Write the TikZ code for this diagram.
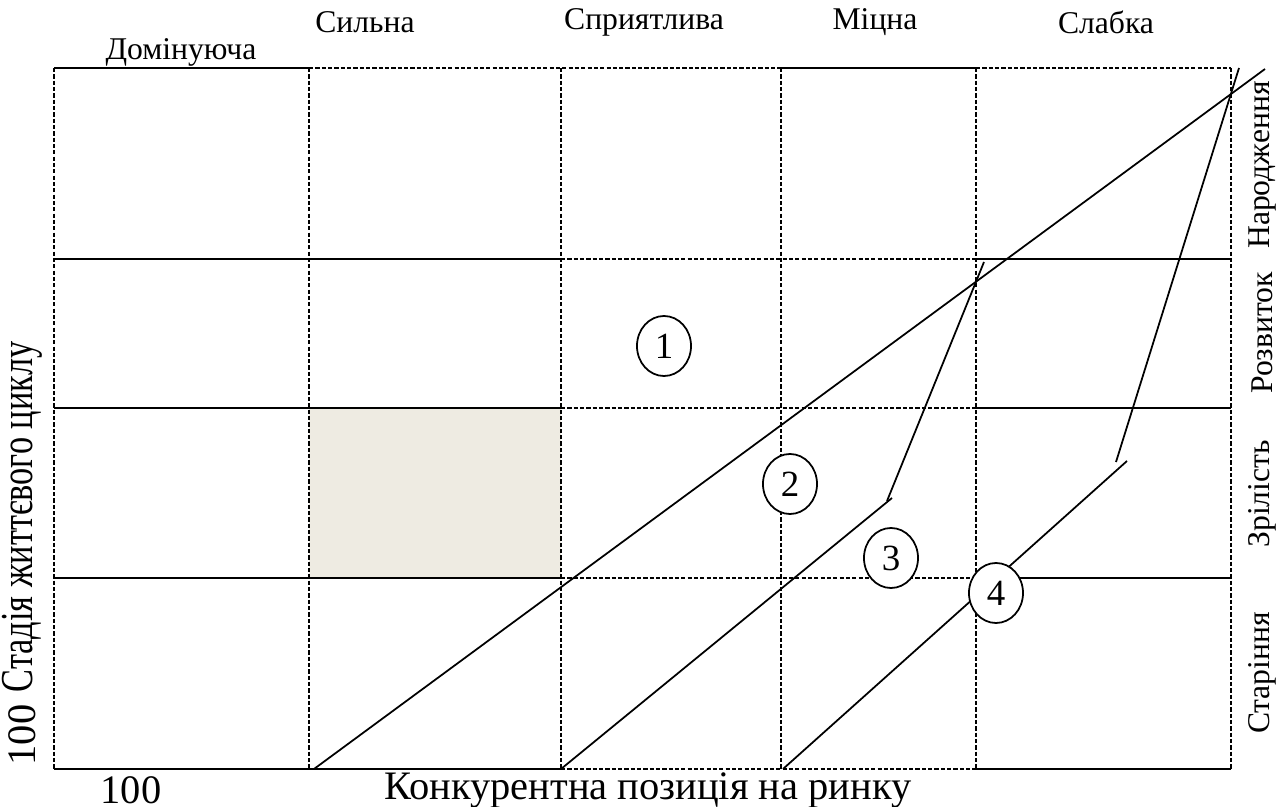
\documentclass[tikz,border=0pt]{standalone}
\usepackage{fontspec}
\setmainfont{Liberation Serif}
\usepackage{tikz}
\usetikzlibrary{shapes.geometric,positioning,calc}

\begin{document}
\begin{tikzpicture}[
    x=0.01cm, y=-0.01cm,
    every node/.style={font=\fontsize{9}{11}\selectfont},
    gridsolid/.style={draw=black, line width=0.7pt},
    griddash/.style={draw=black, line width=0.7pt, dash pattern=on 1.2pt off 0.6pt},
    route/.style={draw=black, line width=0.5pt},
    stage/.style={ellipse, draw=black, line width=0.5pt, fill=white, minimum width=0.54cm, minimum height=0.6cm, inner sep=0pt, font=\fontsize{10.5}{12}\selectfont},
    lbl/.style={inner sep=0pt},
    side/.style={inner sep=0pt, rotate=90},
    axis/.style={inner sep=0pt, font=\fontsize{11.5}{13}\selectfont}
]
    \useasboundingbox (0,0) rectangle (1284,807);

    % shaded cell
    \fill[fill={rgb,255:red,238;green,235;blue,226}] (309,408) rectangle (561,578);

    % vertical grid lines
    \foreach \x in {54,309,561,781,976,1231}
        \draw[griddash] (\x,68) -- (\x,769);

    % top border
    \draw[gridsolid] (54,68) -- (309,68);
    \draw[griddash] (309,68) -- (781,68);
    \draw[gridsolid] (781,68) -- (976,68);
    \draw[griddash] (976,68) -- (1231,68);

    % other horizontals
    \foreach \y in {259,408,578,769} {
        \draw[gridsolid] (54,\y) -- (561,\y);
        \draw[griddash] (561,\y) -- (976,\y);
        \draw[gridsolid] (976,\y) -- (1231,\y);
    }

    % strategy paths
    \coordinate (a0) at (314,769);
    \coordinate (a1) at (1265,69);
    \coordinate (b0) at (561,769);
    \coordinate (b1) at (892,498);
    \coordinate (b2) at (887,501);
    \coordinate (b3) at (984,262);
    \coordinate (c0) at (783,769);
    \coordinate (c1) at (1127,461);
    \coordinate (c2) at (1116,462);
    \coordinate (c3) at (1239,68);
    \draw[route] (a0) -- (a1);
    \draw[route] (b0) -- (b1);
    \draw[route] (b2) -- (b3);
    \draw[route] (c0) -- (c1);
    \draw[route] (c2) -- (c3);

    \node[stage] (one) at (664,346) {1};
    \node[stage] (two) at (790,484) {2};
    \node[stage] (three) at (891,558) {3};
    \node[stage] (four) at (996,593) {4};

    % column headings
    \node[lbl] (dom) at (181,52) {Домінуюча};
    \node[lbl] (strong) at (365,22) {Сильна};
    \node[lbl] (fav) at (644,22) {Сприятлива};
    \node[lbl] (firm) at (875,22) {Міцна};
    \node[lbl] (weak) at (1106,22) {Слабка};

    % row headings
    \node[side] (birth) at (1262,165) {Народження};
    \node[side] (growth) at (1262,333) {Розвиток};
    \node[side] (mature) at (1262,494) {Зрілість};
    \node[side] (aging) at (1262,673) {Старіння};

    % axes
    \node[side, xscale=0.75, font=\fontsize{13}{15}\selectfont] (stage) at (22,517) {Стадія життєвого циклу};
    \node[side, font=\fontsize{11.5}{13}\selectfont] (ylim) at (22,735) {100};
    \node[axis] (xlim) at (131,790) {100};
    \node[axis] (pos) at (648,790) {Конкурентна позиція на ринку};
\end{tikzpicture}
\end{document}
